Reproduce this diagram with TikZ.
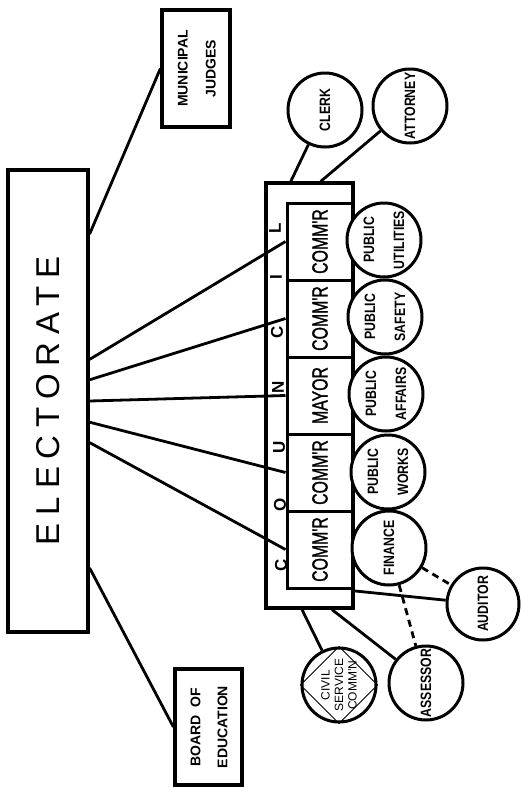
\documentclass[tikz,border=0pt]{standalone}
\usepackage{fontspec}
\setmainfont{Liberation Sans}
\newfontfamily\bigfont{Liberation Sans}[LetterSpace=24]
\newfontfamily\cellfont{Liberation Sans}[FakeStretch=0.72,FakeBold=1.2]
\newfontfamily\labelfont{Liberation Sans}[FakeStretch=0.82]
\usetikzlibrary{positioning}
\newcommand{\vlabel}[2]{\rotatebox{90}{\renewcommand{\arraystretch}{#1}\begin{tabular}{@{}c@{}}#2\end{tabular}}}

\begin{document}
\begin{tikzpicture}
  [x=1pt, y=-1pt, node distance=77pt,
   box node/.style={rectangle,draw,line width=3.2pt,inner sep=0pt},
   cell node/.style={rectangle,draw,line width=3pt,minimum width=66pt,minimum height=77pt,inner sep=0pt,font=\cellfont\fontsize{22}{24}\selectfont},
   office node/.style={circle,draw,fill=white,line width=3pt,minimum size=74pt,inner sep=0pt,rotate=90,align=center,font=\labelfont\bfseries\fontsize{15}{30}\selectfont},
   letter node/.style={inner sep=0pt,font=\bfseries\fontsize{17}{20}\selectfont},
   link/.style={line width=2.8pt},
   dashed link/.style={line width=2.8pt,dash pattern=on 7pt off 5pt}]
  \useasboundingbox (0,0) rectangle (521,788);

  % electorate and elected boards
  \node[box node, minimum width=80pt, minimum height=462pt] (elect) at (48,401)
    {\rotatebox{90}{\bigfont\fontsize{33}{36}\selectfont ELECTORATE}};
  \node[box node, minimum width=68pt, minimum height=117pt, font=\bfseries\fontsize{14}{16.8}\selectfont] (judges) at (196,68.5)
    {\vlabel{1.67}{MUNICIPAL\\JUDGES}};
  \node[box node, minimum width=67pt, minimum height=116pt, font=\bfseries\fontsize{14}{16.8}\selectfont] (board) at (208.5,727)
    {\vlabel{1.6}{BOARD\ \ OF\\EDUCATION}};

  % council
  \node[box node, minimum width=87pt, minimum height=425pt] (council) at (309.5,395.5) {};
  \node[cell node] (c1) at (320,241.5) {\rotatebox{90}{COMM'R}};
  \node[cell node, below of=c1] (c2) {\rotatebox{90}{COMM'R}};
  \node[cell node, below of=c2] (c3) {\rotatebox{90}{MAYOR}};
  \node[cell node, below of=c3] (c4) {\rotatebox{90}{COMM'R}};
  \node[cell node, below of=c4] (c5) {\rotatebox{90}{COMM'R}};

  \node[letter node] (lc1) at (281,565) {\rotatebox{90}{C}};
  \node[letter node] (lo) at (280,505) {\rotatebox{90}{O}};
  \node[letter node] (lu) at (279,447) {\rotatebox{90}{U}};
  \node[letter node] (ln) at (278,387) {\rotatebox{90}{N}};
  \node[letter node] (lc2) at (277,332) {\rotatebox{90}{C}};
  \node[letter node] (li) at (276,277) {\rotatebox{90}{I}};
  \node[letter node] (ll) at (275,228) {\rotatebox{90}{L}};

  % departments
  \node[office node] (util) at (384,240) {PUBLIC\\UTILITIES};
  \node[office node] (safety) at (385,317) {PUBLIC\\SAFETY};
  \node[office node] (affairs) at (386,394) {PUBLIC\\AFFAIRS};
  \node[office node] (works) at (388,472) {PUBLIC\\WORKS};
  \node[office node] (finance) at (389,548) {FINANCE};

  \node[office node] (clerk) at (325,110) {CLERK};
  \node[office node] (attorney) at (410,106) {ATTORNEY};
  \node[office node, minimum size=72pt] (auditor) at (483,604) {AUDITOR};
  \node[office node] (assessor) at (426,683) {ASSESSOR};
  \node[office node, font=\fontsize{12}{13.5}\selectfont] (civil) at (339,685) {CIVIL\\SERVICE\\COMM'N};
  \draw[line width=0.9pt] (civil.north) -- (civil.east) -- (civil.south) -- (civil.west) -- cycle;

  \draw[link] (elect.76) -- (judges.west);
  \draw[link] (elect.45) -- (c1.west);
  \draw[link] (elect.27) -- (c2.west);
  \draw[link] (elect.0) -- (c3.west);
  \draw[link] (elect.-27) -- (c4.west);
  \draw[link] (elect.-45) -- (c5.west);
  \draw[link] (elect.-76) -- (board.west);

  \draw[link] (council.95) -- (clerk);
  \draw[link] (council.87) -- (attorney);
  \draw[link] (council.-77.5) -- (auditor);
  \draw[link] (council.-92) -- (civil);
  \draw[link] (council.-84.5) -- (assessor);
  \draw[dashed link] (finance) -- (auditor);
  \draw[dashed link] (finance) -- (assessor);
\end{tikzpicture}
\end{document}
